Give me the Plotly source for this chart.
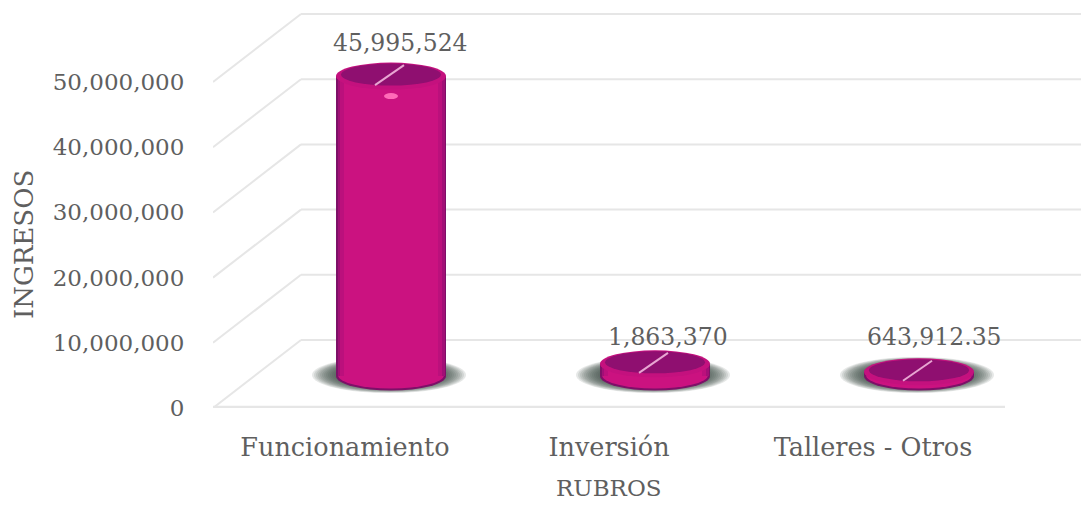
import plotly.graph_objects as go

categories = ["Funcionamiento", "Inversión", "Talleres - Otros"]
values = [45995524, 1863370, 643912.35]
value_labels = ["45,995,524", "1,863,370", "643,912.35"]
y_ticks = [0, 10000000, 20000000, 30000000, 40000000, 50000000]
y_tick_labels = ["0", "10,000,000", "20,000,000", "30,000,000", "40,000,000", "50,000,000"]

FONT = "DejaVu Serif"
TEXT = "#5f5f5f"
GRID = "#e6e6e6"

# layout geometry
W, H = 1081, 505
L, B = 213, 408
X_UNIT = 264.0       # px per category
Y_UNIT = 65.2 / 1e7  # px per value
X0 = 345.0           # px of first category

def ux(px):
    return px / X_UNIT

def uy(px):
    return px / Y_UNIT

x_range = [(L - X0) / X_UNIT, (W - X0) / X_UNIT]
y_range = [0, B / Y_UNIT]
DEPTH_X, DEPTH_Y = ux(88), uy(68)
CX_OFF, BASE = ux(46), uy(32)

shapes = []

def ellipse(cx, cy, rx, ry, color, layer, opacity=1.0):
    shapes.append(dict(type="circle", xref="x", yref="y", layer=layer, opacity=opacity,
                       x0=cx - ux(rx), x1=cx + ux(rx), y0=cy - uy(ry), y1=cy + uy(ry),
                       fillcolor=color, line=dict(width=0)))

def line(x0, y0, x1, y1, color, width, layer):
    shapes.append(dict(type="line", xref="x", yref="y", layer=layer, x0=x0, x1=x1, y0=y0, y1=y1,
                       line=dict(color=color, width=width)))

# 3-D wall and floor lines
for t in y_ticks:
    line(x_range[0], t, x_range[0] + DEPTH_X, t + DEPTH_Y, GRID, 2, "below")
    line(x_range[0] + DEPTH_X, t + DEPTH_Y, x_range[1], t + DEPTH_Y, GRID, 2, "below")
line(x_range[0], uy(1), x_range[0] + ux(792), uy(1), GRID, 2.5, "below")

# cylinder parts
for i, v in enumerate(values):
    cx = i + CX_OFF
    # soft shadow, built from many faint nested ellipses
    for k in range(12):
        ellipse(cx - ux(2), BASE + uy(1), 77 - k * 2, 18 - k * 0.45, "#404a44", "below", 0.13)
    # bottom of the cylinder
    ellipse(cx, BASE, 55, 14.5, "#7d1068", "below")
    ellipse(cx, BASE + uy(1), 53, 13.5, "#cb1280", "below")
    # top of the cylinder
    top = BASE + v
    ellipse(cx, top, 55, 13.5, "#c4117e", "above")
    ellipse(cx, top + uy(1.5), 50, 11, "#8f0f70", "above")
    line(cx - ux(16), top - uy(9), cx + ux(13), top + uy(11), "#e8a6d2", 2, "above")

# specular highlight on the tall cylinder
tall = max(values)
ellipse(values.index(tall) + CX_OFF, BASE + tall - uy(20), 7, 3, "#ff6ab8", "above")

fig = go.Figure()
# nested bars give the cylinder its shaded sides
for bar_px, color in [(110, "#7d1068"), (107, "#a20f76"), (102, "#bb107c"), (94, "#cb1280")]:
    fig.add_trace(go.Bar(
        x=[i + CX_OFF for i in range(len(values))], y=values, base=BASE,
        width=ux(bar_px), marker=dict(color=color, line=dict(width=0)),
        showlegend=False, hoverinfo="skip"))

# value labels
label_offsets = [(55, 365), (59, 71), (61, 71)]
annotations = [dict(x=i + ux(o[0]), y=uy(o[1]), text=t, xref="x", yref="y", showarrow=False,
                    font=dict(family=FONT, size=23.5, color=TEXT))
               for i, (o, t) in enumerate(zip(label_offsets, value_labels))]
annotations += [
    dict(x=(24 - L) / (W - L), y=(B - 245) / B, xref="paper", yref="paper", text="INGRESOS", textangle=-90,
         xanchor="center", yanchor="middle", showarrow=False, font=dict(family=FONT, size=26, color=TEXT)),
    dict(x=(609 - L) / (W - L), y=(B - 488) / B, xref="paper", yref="paper", text="RUBROS",
         xanchor="center", yanchor="middle", showarrow=False, font=dict(family=FONT, size=23, color=TEXT)),
]

fig.update_layout(
    width=W, height=H, barmode="overlay", bargap=0,
    margin=dict(l=L, r=0, t=0, b=H - B),
    paper_bgcolor="white", plot_bgcolor="white",
    shapes=shapes, annotations=annotations, showlegend=False,
    xaxis=dict(range=x_range, tickvals=list(range(len(categories))), ticktext=categories,
               showgrid=False, zeroline=False, showline=False,
               ticks="outside", ticklen=16, tickcolor="rgba(0,0,0,0)",
               tickfont=dict(family=FONT, size=25.5, color=TEXT)),
    yaxis=dict(range=y_range, tickvals=y_ticks, ticktext=y_tick_labels,
               showgrid=False, zeroline=False, showline=False,
               ticks="outside", ticklen=23, tickcolor="rgba(0,0,0,0)",
               tickfont=dict(family=FONT, size=23, color=TEXT)),
)
fig.write_html("out.html", config={"displayModeBar": False},
               post_script="document.body.style.margin='0';document.documentElement.style.overflow='hidden';")
